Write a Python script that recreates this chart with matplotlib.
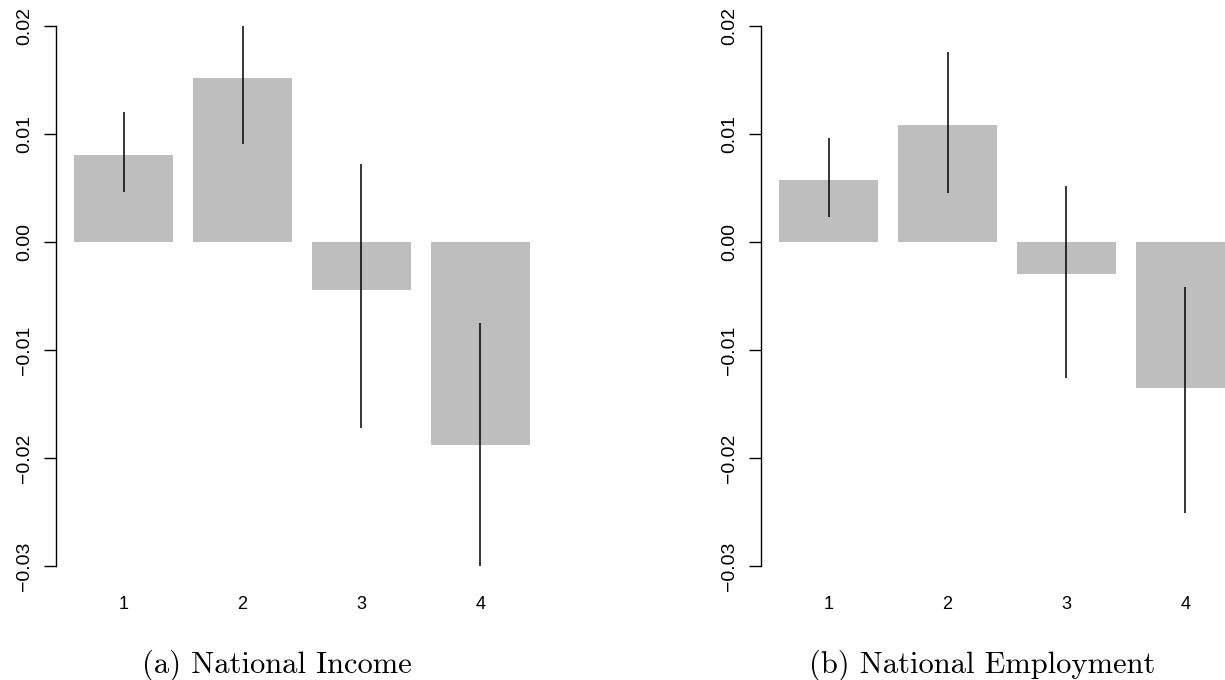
import numpy as np
import matplotlib
matplotlib.use("Agg")
import matplotlib.pyplot as plt

# Data
groups = ["1", "2", "3", "4"]

income_est = [0.0081, 0.0152, -0.0044, -0.0188]
income_lo = [0.0046, 0.0091, -0.0172, -0.0300]
income_hi = [0.0120, 0.0200, 0.0072, -0.0075]

employment_est = [0.0057, 0.0108, -0.0030, -0.0135]
employment_lo = [0.0023, 0.0045, -0.0126, -0.0251]
employment_hi = [0.0096, 0.0176, 0.0052, -0.0042]

captions = ["(a) National Income", "(b) National Employment"]
yticks = [-0.03, -0.02, -0.01, 0.00, 0.01, 0.02]
ytick_labels = ["\u22120.03", "\u22120.02", "\u22120.01", "0.00", "0.01", "0.02"]

plt.rcParams['font.family'] = ['Liberation Sans', 'DejaVu Sans']

fig = plt.figure(figsize=(12.25, 6.8), dpi=100)

# R barplot geometry: width 1, space 0.2
x = 0.2 + np.arange(len(groups)) * 1.2 + 0.5

def draw_panel(ax, est, lo, hi):
	ax.bar(x, est, width=1.0, color="#BEBEBE", edgecolor="none")
	ax.vlines(x, lo, hi, color="black", linewidth=1.1)

	ax.set_xlim(0.016, 4.984)
	ax.set_ylim(-0.032, 0.022)

	for s in ["top", "right", "bottom"]:
		ax.spines[s].set_visible(False)
	ax.spines["left"].set_bounds(-0.03, 0.02)
	ax.spines["left"].set_linewidth(1.0)

	ax.set_yticks(yticks)
	ax.set_yticklabels(ytick_labels, rotation=90, va="center")
	ax.tick_params(axis="y", length=8.5, width=1.0, pad=8, labelsize=14)

	ax.set_xticks(x)
	ax.set_xticklabels(groups)
	ax.tick_params(axis="x", length=0, pad=6, labelsize=13)


W = 492 / 1225
ax1 = fig.add_axes([56 / 1225, 1 - 587.6 / 680, W, 583.2 / 680])
draw_panel(ax1, income_est, income_lo, income_hi)

ax2 = fig.add_axes([761 / 1225, 1 - 587.6 / 680, W, 583.2 / 680])
draw_panel(ax2, employment_est, employment_lo, employment_hi)

fig.text(277 / 1225, 7 / 680, captions[0], family="cmr10", fontsize=22, ha="center", va="baseline")
fig.text(982 / 1225, 7 / 680, captions[1], family="cmr10", fontsize=22, ha="center", va="baseline")

fig.savefig("out.png", dpi=100)
